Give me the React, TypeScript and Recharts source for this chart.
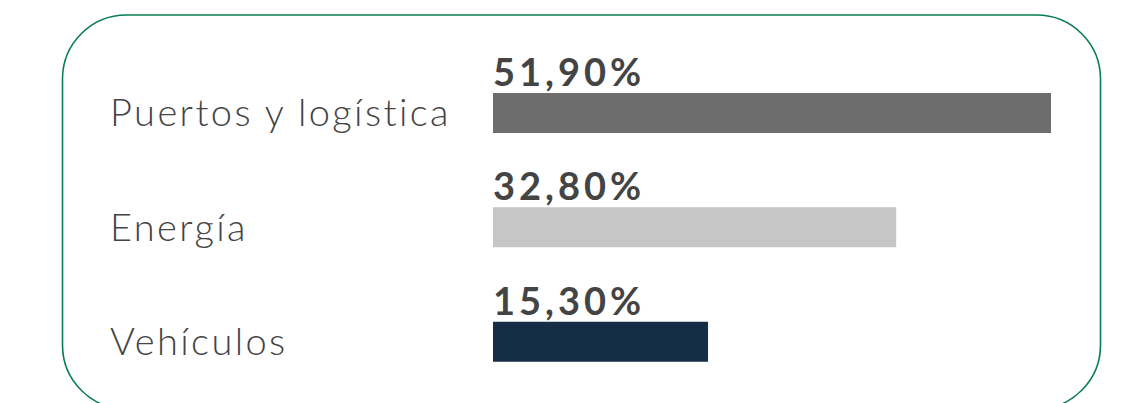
import React from "react";
import { BarChart, Bar, XAxis, YAxis, Cell, LabelList } from "recharts";

const categories = ["Puertos y logística", "Energía", "Vehículos"];
const shareLabels = ["51,90%", "32,80%", "15,30%"];
// bar lengths as drawn in the reference (same % units as the first bar)
const barValues = [51.9, 37.5, 20.0];
const barColors = ["#6d6d6d", "#c6c6c6", "#132e45"];

const data = categories.map((c, i) => ({
  name: c,
  value: barValues[i],
  label: shareLabels[i],
}));

const W = 1123;
const H = 403;

const CategoryTick = (props: any) => {
  const { y, payload } = props;
  return (
    <text
      x={110}
      y={y}
      dy={13}
      textAnchor="start"
      fill="#444444"
      fontFamily="Lato, 'Open Sans', sans-serif"
      fontWeight={300}
      fontSize={38}
      letterSpacing={2.4}
    >
      {payload.value}
    </text>
  );
};

const ValueLabel = (props: any) => {
  const { x, y, index } = props;
  return (
    <text
      x={x}
      y={y - 7}
      textAnchor="start"
      fill="#444444"
      fontFamily="Lato, 'Open Sans', sans-serif"
      fontWeight={700}
      fontSize={38}
      letterSpacing={4}
    >
      {shareLabels[index]}
    </text>
  );
};

export default function App() {
  return (
    <div
      style={{
        position: "absolute",
        left: 0,
        top: 0,
        width: W,
        height: H,
        overflow: "hidden",
        background: "#ffffff",
      }}
    >
      <svg
        width={W}
        height={H}
        style={{ position: "absolute", left: 0, top: 0 }}
      >
        <rect
          x={62.5}
          y={15}
          width={1038}
          height={394}
          rx={64}
          ry={64}
          fill="none"
          stroke="#0a7d4f"
          strokeWidth={1.6}
        />
      </svg>
      <div style={{ position: "absolute", left: 0, top: 0 }}>
        <BarChart
          width={W}
          height={H}
          data={data}
          layout="vertical"
          margin={{ top: 56, right: 72, bottom: 4, left: 0 }}
          barCategoryGap={0}
        >
          <XAxis type="number" domain={[0, 51.9]} hide />
          <YAxis
            type="category"
            dataKey="name"
            width={493}
            axisLine={false}
            tickLine={false}
            tick={<CategoryTick />}
            interval={0}
          />
          <Bar dataKey="value" barSize={40} isAnimationActive={false}>
            {data.map((d, i) => (
              <Cell key={d.name} fill={barColors[i]} />
            ))}
            <LabelList dataKey="label" content={<ValueLabel />} />
          </Bar>
        </BarChart>
      </div>
    </div>
  );
}
